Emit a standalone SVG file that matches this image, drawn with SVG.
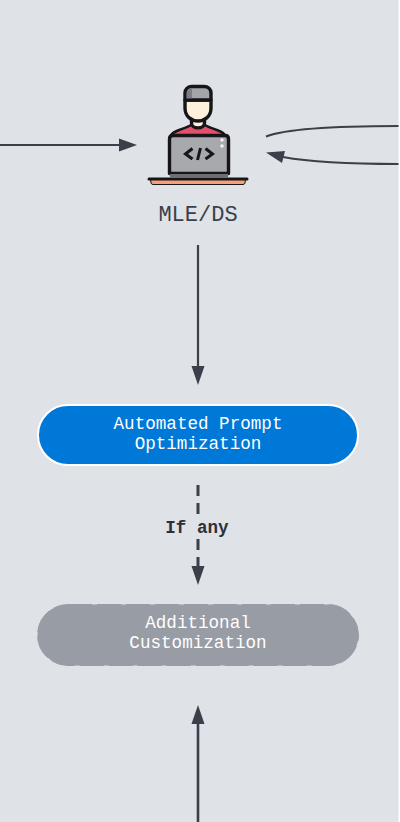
<svg xmlns="http://www.w3.org/2000/svg" width="400" height="822" viewBox="0 0 400 822">
<style>
.c{fill:none;stroke:#3b3f4a;stroke-width:2.2}
.d{stroke-width:3;stroke-dasharray:11 7}
.b{stroke-width:2.6}
.h{fill:#3b3f4a;stroke:none}
.t{font-family:"Liberation Mono",monospace;font-size:17.6px;fill:#fff;text-anchor:middle}
.k{stroke:#16161a;stroke-width:3.4;stroke-linejoin:round;stroke-linecap:round}
</style>
<rect width="400" height="822" fill="#fff"/>
<rect width="398.500" height="822" fill="#dfe2e7"/>
<g id="connectors">
<path class="c" d="M0 145H120"/><path class="h" d="M137 145L119 138.500V151.500Z"/>
<path class="c" d="M266 136.500C288 128 340 126 398.500 126"/>
<path class="c" d="M283 157C310 162 350 164 398.500 164"/><path class="h" d="M266 152.500L285 151L282 163Z"/>
<path class="c" d="M198 245V368"/><path class="h" d="M198 385L191.500 366H204.500Z"/>
<path class="c d" d="M198 485V570"/><path class="h" d="M198 585L191.500 566H204.500Z"/>
<path class="c b" d="M198 822V722"/><path class="h" d="M198 705L191.500 724H204.500Z"/>
</g>
<g id="mle-ds">
<path d="M150.500 179H245.500L245 183Q244.500 184.500 243 184.500H153Q151.500 184.500 151 183Z" fill="#f79f79" stroke="#16161a" stroke-width="1"/>
<path d="M149 179H247" stroke="#16161a" stroke-width="3" stroke-linecap="round"/>
<path fill="#e2506a" stroke="#16161a" stroke-width="2.400" stroke-linejoin="round" d="M170 137C172 130 185 129 191 125H205C211 129 224 130 226 137V140H170Z"/>
<path class="k" fill="#fdf0dc" stroke-width="2.600" d="M191.500 118V123C191.500 129.500 204.500 129.500 204.500 123V118Z"/>
<path class="k" fill="#fdf0dc" d="M185 100V108C185 117 192 121 198 121C204 121 211 117 211 108V100Z"/>
<path class="k" fill="#a3a5a9" d="M185 100V93C185 89 188 86.500 192 86.500H204C208 86.500 211 89 211 93V100Z"/>
<path d="M186.700 98.300V93C186.700 90 189 88.200 192 88.200V98.300Z" fill="#7d7e83"/>
<path class="k" fill="#a8a9ad" d="M169.500 139Q169.500 135.500 173 135.500H225Q228.500 135.500 228.500 139V173.500H169.500Z"/>
<rect x="170" y="174" width="58" height="4" fill="#6d6e72"/>
<circle cx="222" cy="140" r="1.700" fill="#f4f4f4"/><circle cx="222" cy="146" r="1.700" fill="#f4f4f4"/>
<path d="M192.500 148.500L185.500 154L192.500 159M205.500 148.500L212.500 154L205.500 159M200.500 148L197.500 160" fill="none" stroke="#16161a" stroke-width="3"/>
<text x="198" y="221" style="font-family:'Liberation Mono',monospace;font-size:22px;fill:#3b3f4a;text-anchor:middle">MLE/DS</text>
</g>
<g id="automated-prompt-optimization">
<rect x="38" y="405" width="320" height="60" rx="30" fill="#0078d7" stroke="#fff" stroke-width="2"/>
<text class="t" x="198" y="429">Automated Prompt</text>
<text class="t" x="198" y="449">Optimization</text>
</g>
<g id="if-any">
<rect x="165" y="520" width="64" height="19" fill="#dfe2e7"/>
<text x="197" y="533" style="font-family:'Liberation Mono',monospace;font-size:17.6px;font-weight:700;fill:#2e3038;text-anchor:middle">If any</text>
</g>
<g id="additional-customization">
<rect x="37.500" y="604.500" width="321" height="61" rx="30.500" fill="#989ca5" stroke="#989ca5" stroke-width="1" stroke-dasharray="24 5"/>
<text class="t" x="198" y="628">Additional</text>
<text class="t" x="198" y="648">Customization</text>
</g>
</svg>
